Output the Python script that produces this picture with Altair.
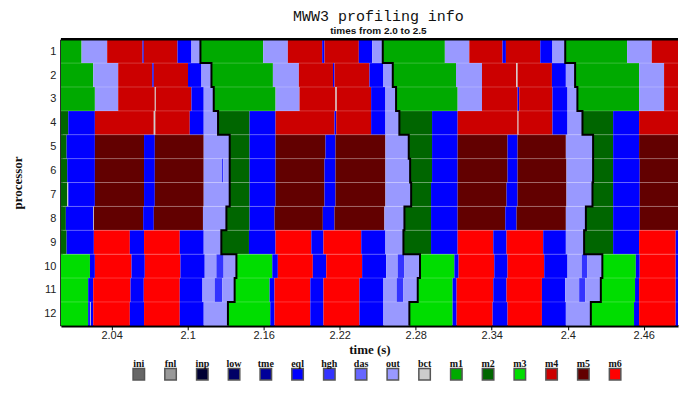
import altair as alt
import pandas as pd

seg_types = ["ini", "fnl", "inp", "low", "tme", "eql", "hgh", "das", "out", "bct",
             "m1", "m2", "m3", "m4", "m5", "m6"]
seg_colors = ["#666666", "#999999", "#000033", "#000066", "#000099", "#0000ff", "#3333ff",
              "#6666ff", "#9999ff", "#cccccc", "#00aa00", "#006600", "#00dd00", "#cc0000",
              "#620000", "#ff0000"]
x_ticks = [2.04, 2.1, 2.16, 2.22, 2.28, 2.34, 2.4, 2.46]
processors = list(range(1, 13))
t_view_end = 2.4870   # right edge of the visible part of the time axis

p01 = [("m1", 2.0000), ("out", 2.0163), ("m4", 2.0365), ("eql", 2.0644), ("m4", 2.0654),
       ("eql", 2.0920), ("out", 2.1030), ("m1", 2.1101), ("out", 2.1596), ("m4", 2.1791),
       ("eql", 2.2062), ("m4", 2.2080), ("eql", 2.2351), ("out", 2.2456), ("m1", 2.2540),
       ("out", 2.3030), ("m4", 2.3223), ("eql", 2.3485), ("m4", 2.3512), ("eql", 2.3783),
       ("out", 2.3879), ("m1", 2.3980), ("out", 2.4468), ("m4", 2.4663)]
p02 = [("m1", 2.0000), ("out", 2.0255), ("m4", 2.0452), ("eql", 2.0721), ("m4", 2.0733),
       ("eql", 2.1003), ("out", 2.1109), ("m1", 2.1188), ("out", 2.1673), ("m4", 2.1878),
       ("eql", 2.2147), ("m4", 2.2159), ("eql", 2.2435), ("out", 2.2545), ("m1", 2.2619),
       ("out", 2.3118), ("m4", 2.3323), ("bct", 2.3593), ("m4", 2.3604), ("eql", 2.3875),
       ("out", 2.3985), ("m1", 2.4058), ("out", 2.4563), ("m4", 2.4760)]
p03 = [("m1", 2.0000), ("out", 2.0268), ("m4", 2.0452), ("bct", 2.0741), ("m4", 2.0749),
       ("eql", 2.1030), ("out", 2.1127), ("m1", 2.1206), ("out", 2.1694), ("m4", 2.1883),
       ("bct", 2.2167), ("m4", 2.2177), ("eql", 2.2448), ("out", 2.2561), ("m1", 2.2645),
       ("out", 2.3131), ("m4", 2.3323), ("eql", 2.3604), ("m4", 2.3617), ("eql", 2.3879),
       ("out", 2.3998), ("m1", 2.4076), ("out", 2.4563), ("m4", 2.4760)]
p04 = [("m2", 2.0000), ("eql", 2.0058), ("m4", 2.0268), ("bct", 2.0733), ("m4", 2.0745),
       ("eql", 2.1017), ("out", 2.1127), ("m2", 2.1240), ("eql", 2.1489), ("m4", 2.1694),
       ("eql", 2.2159), ("m4", 2.2173), ("eql", 2.2448), ("out", 2.2561), ("m2", 2.2671),
       ("eql", 2.2929), ("m4", 2.3131), ("bct", 2.3604), ("m4", 2.3611), ("eql", 2.3879),
       ("out", 2.3998), ("m2", 2.4116), ("eql", 2.4358), ("m4", 2.4563)]
p05 = [("m2", 2.0000), ("eql", 2.0045), ("m5", 2.0268), ("eql", 2.0656), ("m5", 2.0741),
       ("out", 2.1127), ("m2", 2.1332), ("eql", 2.1489), ("m5", 2.1694), ("eql", 2.2088),
       ("m5", 2.2167), ("out", 2.2561), ("m2", 2.2745), ("eql", 2.2929), ("m5", 2.3131),
       ("eql", 2.3525), ("m5", 2.3604), ("out", 2.3985), ("m2", 2.4200), ("eql", 2.4358),
       ("m5", 2.4563)]
p06 = [("m2", 2.0000), ("eql", 2.0050), ("m5", 2.0268), ("eql", 2.0656), ("m5", 2.0741),
       ("out", 2.1127), ("eql", 2.1273), ("out", 2.1281), ("m2", 2.1332), ("eql", 2.1489),
       ("m5", 2.1694), ("eql", 2.2080), ("m5", 2.2167), ("out", 2.2561), ("m2", 2.2756),
       ("eql", 2.2929), ("m5", 2.3131), ("eql", 2.3525), ("m5", 2.3604), ("out", 2.3990),
       ("m2", 2.4200), ("eql", 2.4358), ("m5", 2.4568)]
p07 = [("m2", 2.0000), ("bct", 2.0050), ("eql", 2.0058), ("m5", 2.0268), ("eql", 2.0656),
       ("m5", 2.0741), ("out", 2.1127), ("m2", 2.1332), ("eql", 2.1489), ("m5", 2.1694),
       ("eql", 2.2080), ("m5", 2.2167), ("out", 2.2561), ("m2", 2.2764), ("eql", 2.2921),
       ("m5", 2.3131), ("eql", 2.3517), ("m5", 2.3604), ("out", 2.3990), ("m2", 2.4195),
       ("eql", 2.4358), ("m5", 2.4568)]
p08 = [("m2", 2.0000), ("eql", 2.0039), ("bct", 2.0255), ("m5", 2.0260), ("eql", 2.0649),
       ("m5", 2.0733), ("out", 2.1121), ("m2", 2.1306), ("eql", 2.1489), ("m5", 2.1686),
       ("eql", 2.2067), ("m5", 2.2159), ("out", 2.2553), ("m2", 2.2711), ("eql", 2.2921),
       ("m5", 2.3131), ("eql", 2.3507), ("m5", 2.3596), ("out", 2.3985), ("m2", 2.4143),
       ("eql", 2.4358), ("m5", 2.4568)]
p09 = [("m2", 2.0000), ("eql", 2.0045), ("m6", 2.0260), ("eql", 2.0544), ("m6", 2.0656),
       ("eql", 2.0938), ("out", 2.1127), ("m2", 2.1266), ("eql", 2.1484), ("m6", 2.1694),
       ("eql", 2.1976), ("m6", 2.2072), ("eql", 2.2370), ("out", 2.2561), ("m2", 2.2703),
       ("eql", 2.2921), ("m6", 2.3131), ("eql", 2.3412), ("m6", 2.3517), ("eql", 2.3806),
       ("out", 2.3985), ("m2", 2.4129), ("eql", 2.4358), ("m6", 2.4563), ("eql", 2.4852)]
p10 = [("m3", 2.0000), ("eql", 2.0229), ("m6", 2.0268), ("eql", 2.0557), ("m6", 2.0662),
       ("eql", 2.0943), ("out", 2.1135), ("hgh", 2.1227), ("out", 2.1284), ("m3", 2.1385),
       ("eql", 2.1668), ("m6", 2.1712), ("eql", 2.1988), ("m6", 2.2094), ("eql", 2.2377),
       ("out", 2.2567), ("hgh", 2.2658), ("out", 2.2711), ("m3", 2.2834), ("eql", 2.3105),
       ("m6", 2.3139), ("eql", 2.3420), ("m6", 2.3525), ("eql", 2.3814), ("out", 2.3998),
       ("hgh", 2.4111), ("out", 2.4155), ("m3", 2.4273), ("eql", 2.4537), ("m6", 2.4568),
       ("eql", 2.4852)]
p11 = [("m3", 2.0000), ("eql", 2.0215), ("m6", 2.0255), ("eql", 2.0549), ("m6", 2.0654),
       ("eql", 2.0938), ("out", 2.1117), ("hgh", 2.1214), ("out", 2.1274), ("m3", 2.1371),
       ("eql", 2.1647), ("m6", 2.1686), ("eql", 2.1968), ("m6", 2.2072), ("eql", 2.2356),
       ("out", 2.2545), ("hgh", 2.2650), ("out", 2.2703), ("m3", 2.2816), ("eql", 2.3091),
       ("m6", 2.3123), ("eql", 2.3412), ("m6", 2.3517), ("eql", 2.3796), ("out", 2.3980),
       ("hgh", 2.4090), ("out", 2.4137), ("m3", 2.4261), ("eql", 2.4531), ("m6", 2.4563),
       ("eql", 2.4852)]
p12 = [("m3", 2.0000), ("eql", 2.0215), ("bct", 2.0229), ("eql", 2.0236), ("m6", 2.0255),
       ("eql", 2.0544), ("m6", 2.0656), ("eql", 2.0938), ("out", 2.1127), ("m3", 2.1318),
       ("eql", 2.1652), ("m6", 2.1686), ("eql", 2.1968), ("m6", 2.2072), ("eql", 2.2356),
       ("out", 2.2545), ("m3", 2.2750), ("eql", 2.3091), ("m6", 2.3123), ("eql", 2.3407),
       ("m6", 2.3525), ("eql", 2.3796), ("out", 2.3985), ("m3", 2.4182), ("eql", 2.4523),
       ("m6", 2.4563), ("eql", 2.4852)]
rows = [p01, p02, p03, p04, p05, p06, p07, p08, p09, p10, p11, p12]

# ---- tables built from the lists above ----
recs = []
steps = []
for proc, segs in zip(processors, rows):
    k = 0
    for i, (typ, start) in enumerate(segs):
        if start >= t_view_end:
            continue
        end = segs[i + 1][1] if i + 1 < len(segs) else t_view_end
        recs.append(dict(proc=proc, type=typ, start=start, end=min(end, t_view_end),
                         y0=proc - 0.5, y1=proc + 0.5))
        if typ in ("m1", "m2", "m3") and start > 2.0:
            steps.append(dict(k=k, o=2 * proc, x=start, y=proc - 0.5))
            steps.append(dict(k=k, o=2 * proc + 1, x=start, y=proc + 0.5))
            k += 1
df = pd.DataFrame(recs)
step_df = pd.DataFrame(steps)
sep_df = pd.DataFrame({"y": [p + 0.5 for p in processors[:-1]]})
top_df = pd.DataFrame({"y": [0.5]})

W, H = 618, 287
xs = alt.Scale(domain=[2.0, t_view_end], nice=False, zero=False)
ys = alt.Scale(domain=[0.5, 12.5], reverse=True, nice=False, zero=False)
cs = alt.Scale(domain=seg_types, range=seg_colors)

xaxis = alt.Axis(values=x_ticks, format=".3~g", title="time (s)", grid=False,
                 tickSize=4, tickColor="black", tickWidth=1,
                 domainColor="black", domainWidth=2.5,
                 labelFont="Liberation Sans", labelFontSize=11, labelColor="#222",
                 labelPadding=0, titleFont="Liberation Serif", titleFontSize=13,
                 titleFontWeight="bold", titleColor="#111", titlePadding=3)
yaxis = alt.Axis(values=processors, format="d", title="processor", grid=False,
                 ticks=False, domainColor="black", domainWidth=2.5,
                 labelFont="Liberation Sans", labelFontSize=11, labelColor="#222",
                 labelPadding=5, titleFont="Liberation Serif", titleFontSize=13,
                 titleFontWeight="bold", titleColor="#111", titlePadding=19)

rects = alt.Chart(df).mark_rect(clip=True).encode(
    x=alt.X("start:Q", scale=xs, axis=xaxis),
    x2="end:Q",
    y=alt.Y("y0:Q", scale=ys, axis=yaxis),
    y2="y1:Q",
    color=alt.Color("type:N", scale=cs, legend=None),
)
seps = alt.Chart(sep_df).mark_rule(color="white", opacity=0.22, strokeWidth=1).encode(
    y=alt.Y("y:Q", scale=ys, axis=yaxis)
)
stepline = alt.Chart(step_df).mark_line(color="black", strokeWidth=2, clip=True).encode(
    x=alt.X("x:Q", scale=xs, axis=xaxis),
    y=alt.Y("y:Q", scale=ys, axis=yaxis),
    detail="k:N",
    order="o:Q",
)
topline = alt.Chart(top_df).mark_rule(color="black", strokeWidth=2.5).encode(
    y=alt.Y("y:Q", scale=ys, axis=yaxis)
)

main = alt.layer(rects, seps, stepline, topline).properties(
    width=W, height=H,
    title=alt.TitleParams(
        text="MWW3 profiling info", subtitle="times from 2.0 to 2.5",
        font="Liberation Mono", fontSize=15, fontWeight="normal", color="#111",
        subtitleFont="Liberation Sans", subtitleFontSize=10, subtitleFontWeight="bold",
        subtitleColor="#111", anchor="middle", offset=2, subtitlePadding=2, dx=9,
    ),
)

# legend: one square per segment type, placed by its index in seg_types
leg_df = pd.DataFrame({"type": seg_types, "idx": list(range(len(seg_types)))})
lx = alt.X("idx:Q", scale=alt.Scale(domain=[-2.4528, 16.9811], nice=False, zero=False),
           axis=None)
squares = alt.Chart(leg_df).mark_square(size=132, opacity=1, stroke="#555",
                                         strokeWidth=1.5).encode(
    x=lx, y=alt.value(14.5), color=alt.Color("type:N", scale=cs, legend=None)
)
labels = alt.Chart(leg_df).mark_text(font="Liberation Serif", fontWeight="bold",
                                      fontSize=10, color="#111").encode(
    x=lx, y=alt.value(4), text="type:N"
)
legend = alt.layer(squares, labels).properties(width=W, height=21)

chart = alt.vconcat(main, legend, spacing=34, bounds="flush").properties(
    padding={"left": 3, "top": 0, "right": 0, "bottom": 0}
).configure_view(stroke=None)

chart.save("out.html", embed_options={"renderer": "svg", "actions": False})
